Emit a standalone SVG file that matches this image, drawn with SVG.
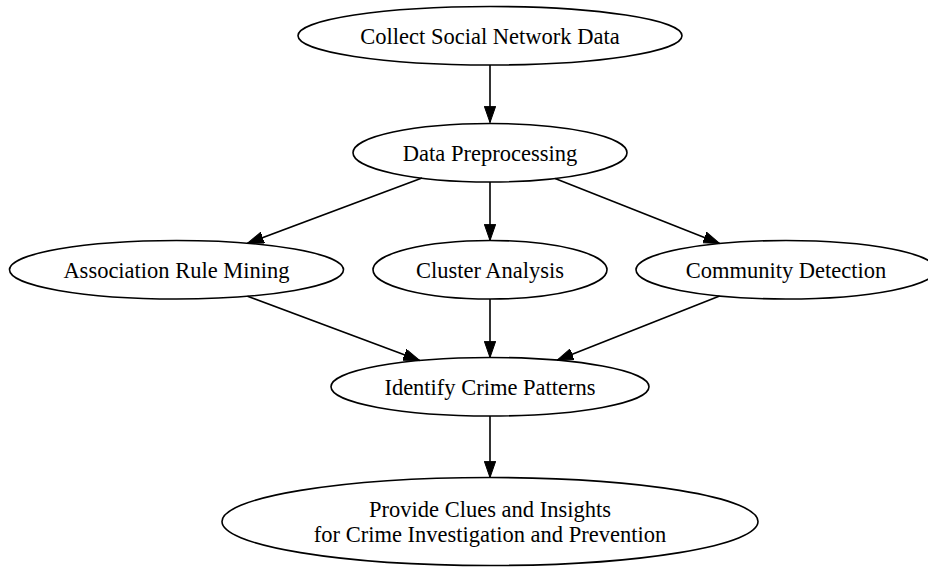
<svg xmlns="http://www.w3.org/2000/svg" width="928" height="570" viewBox="0 0 928 570">
<style>
.node ellipse{fill:none;stroke:#000;stroke-width:1.6}
.node text{font-family:"Liberation Serif","Times New Roman",serif;font-size:22.5px;fill:#000;text-anchor:middle}
.edges line{stroke:#000;stroke-width:1.6}
</style>
<defs>
<marker id="arr" markerWidth="16.25" markerHeight="12" refX="16.25" refY="6" orient="auto" markerUnits="userSpaceOnUse">
<path d="M0,0.3 L16.25,6 L0,11.7 Z" fill="#000" stroke="#000" stroke-width="1"/>
</marker>
</defs>
<rect width="928" height="570" fill="#fff"/>
<g id="edges" class="edges">
<line x1="490" y1="65" x2="490" y2="122.5" marker-end="url(#arr)"/>
<line x1="422" y1="178.1" x2="247.5" y2="243.3" marker-end="url(#arr)"/>
<line x1="490" y1="182" x2="490" y2="240.5" marker-end="url(#arr)"/>
<line x1="555.1" y1="178.5" x2="719.6" y2="243.5" marker-end="url(#arr)"/>
<line x1="247.5" y1="296.2" x2="419.7" y2="360.5" marker-end="url(#arr)"/>
<line x1="490" y1="299" x2="490" y2="357.5" marker-end="url(#arr)"/>
<line x1="719.6" y1="296" x2="557.1" y2="360.2" marker-end="url(#arr)"/>
<line x1="490" y1="416" x2="490" y2="477.5" marker-end="url(#arr)"/>
</g>
<g id="collect" class="node">
<ellipse cx="490" cy="35.75" rx="192" ry="29.25"/>
<text x="490" y="43.5">Collect Social Network Data</text>
</g>
<g id="preprocess" class="node">
<ellipse cx="490" cy="152.75" rx="137" ry="29.25"/>
<text x="490" y="160.5">Data Preprocessing</text>
</g>
<g id="assoc" class="node">
<ellipse cx="176.5" cy="269.75" rx="167" ry="29.25"/>
<text x="176.5" y="277.5">Association Rule Mining</text>
</g>
<g id="cluster" class="node">
<ellipse cx="490" cy="269.75" rx="117" ry="29.25"/>
<text x="490" y="277.5">Cluster Analysis</text>
</g>
<g id="community" class="node">
<ellipse cx="786" cy="269.75" rx="150" ry="29.25"/>
<text x="786" y="277.5">Community Detection</text>
</g>
<g id="identify" class="node">
<ellipse cx="490" cy="386.75" rx="159" ry="29.25"/>
<text x="490" y="394.5">Identify Crime Patterns</text>
</g>
<g id="provide" class="node">
<ellipse cx="490" cy="521.5" rx="268" ry="44"/>
<text x="490" y="516.5">Provide Clues and Insights</text>
<text x="490" y="542">for Crime Investigation and Prevention</text>
</g>
</svg>
